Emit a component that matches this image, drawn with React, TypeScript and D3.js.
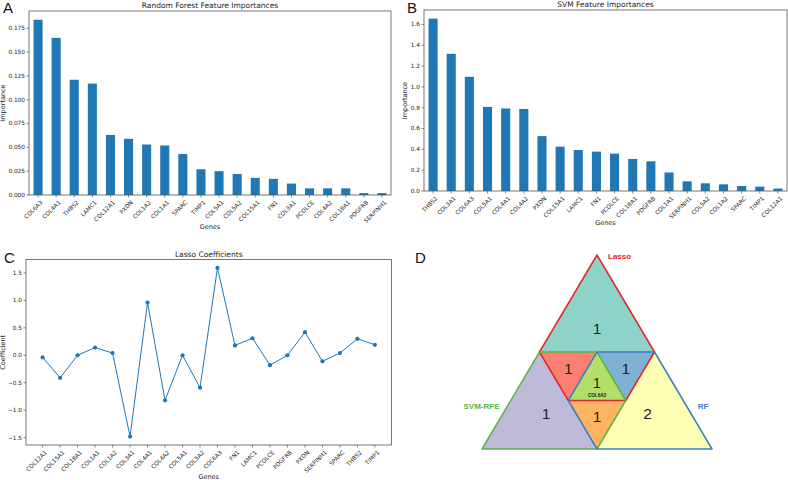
import * as d3 from 'd3'

// A - random forest importances (sorted)
const rfGenes = ['COL6A3','COL4A1','THBS2','LAMC1','COL12A1','PXDN','COL1A2','COL1A1','SPARC','TIMP1','COL5A1','COL5A2','COL15A1','FN1','COL3A1','PCOLCE','COL4A2','COL18A1','PDGFRB','SERPINH1']
const rfValues = [0.184,0.165,0.121,0.117,0.063,0.059,0.053,0.052,0.043,0.027,0.025,0.022,0.018,0.017,0.012,0.007,0.007,0.007,0.002,0.002]
const rfTicks = [0,0.025,0.05,0.075,0.1,0.125,0.15,0.175]

// B - SVM importances
const svmGenes = ['THBS2','COL3A1','COL6A3','COL5A1','COL4A1','COL4A2','PXDN','COL15A1','LAMC1','FN1','PCOLCE','COL18A1','PDGFRB','COL1A1','SERPINH1','COL5A2','COL1A2','SPARC','TIMP1','COL12A1']
const svmValues = [1.656,1.318,1.097,0.808,0.793,0.788,0.527,0.426,0.394,0.378,0.359,0.308,0.285,0.178,0.093,0.074,0.064,0.048,0.042,0.024]
const svmTicks = [0,0.2,0.4,0.6,0.8,1.0,1.2,1.4,1.6]

// C - lasso coefficients
const lassoGenes = ['COL12A1','COL15A1','COL18A1','COL1A1','COL1A2','COL3A1','COL4A1','COL4A2','COL5A1','COL5A2','COL6A3','FN1','LAMC1','PCOLCE','PDGFRB','PXDN','SERPINH1','SPARC','THBS2','TIMP1']
const lassoValues = [-0.04,-0.41,0.0,0.14,0.04,-1.48,0.96,-0.82,0.0,-0.59,1.59,0.18,0.31,-0.18,0.0,0.42,-0.11,0.04,0.30,0.19]
const lassoTicks = [-1.5,-1.0,-0.5,0,0.5,1.0,1.5]

// D - overlap counts
const vennRegions = ['Lasso','SVM-RFE','RF','Lasso+SVM-RFE','Lasso+RF','SVM-RFE+RF','All']
const vennCounts = [1,1,2,1,1,1,1]
const sharedGene = 'COL6A3'

const FONT = '"DejaVu Sans", sans-serif'
const SANS = 'Arial, "Liberation Sans", sans-serif'
const BLUE = '#1f77b4'
const SPINE = '#555'

type Box = {left:number, top:number, right:number, bottom:number}

function Axes({box, yScale, ticks, fmt, labels, xPos, title, ylabel, letter, letterX, letterY, ylabelX, xlabelY}:any) {
  const {left, top, right, bottom} = box as Box
  return (
    <g fontFamily={FONT}>
      <rect x={left} y={top} width={right-left} height={bottom-top} fill="none" stroke={SPINE} strokeWidth={0.8}/>
      {ticks.map((t:number) => (
        <g key={t} transform={`translate(${left},${yScale(t)})`}>
          <line x1={-2.5} x2={0} stroke={SPINE} strokeWidth={0.7}/>
          <text x={-4} dy="0.32em" fontSize={5.8} textAnchor="end" fill="#222">{fmt(t)}</text>
        </g>
      ))}
      {labels.map((g:string) => (
        <g key={g} transform={`translate(${xPos(g)},${bottom})`}>
          <line y1={0} y2={2.5} stroke={SPINE} strokeWidth={0.7}/>
          <text transform="translate(2,5) rotate(-45)" fontSize={5.8} textAnchor="end" dy="0.7em" fill="#222">{g}</text>
        </g>
      ))}
      <text x={(left+right)/2} y={top-3} fontSize={7.5} textAnchor="middle" fill="#222">{title}</text>
      <text x={(left+right)/2} y={xlabelY} fontSize={6.5} textAnchor="middle" fill="#222">Genes</text>
      <text transform={`translate(${ylabelX},${(top+bottom)/2}) rotate(-90)`} fontSize={6.5} textAnchor="middle" fill="#222">{ylabel}</text>
      <text x={letterX} y={letterY} fontSize={15} fill="#111" fontFamily={SANS}>{letter}</text>
    </g>
  )
}

function BarPanel({genes, values, ticks, fmt, box, title, letter, letterX, ylabelX, xlabelY}:any) {
  const x = d3.scaleBand<string>().domain(genes).range([box.left, box.right]).paddingInner(0.5).paddingOuter(0.25)
  const y = d3.scaleLinear().domain([0, (d3.max(values as number[]) as number)*1.05]).range([box.bottom, box.top])
  return (
    <g>
      {genes.map((g:string, i:number) => (
        <rect key={g} x={x(g)} y={y(values[i])} width={x.bandwidth()} height={y(0)-y(values[i])} fill={BLUE}/>
      ))}
      <Axes box={box} yScale={y} ticks={ticks} fmt={fmt} labels={genes} xPos={(g:string)=>(x(g) as number)+x.bandwidth()/2}
        title={title} ylabel="Importance" letter={letter} letterX={letterX} letterY={13} ylabelX={ylabelX} xlabelY={xlabelY}/>
    </g>
  )
}

function LassoPanel() {
  const box = {left:26, top:259.5, right:391.5, bottom:445}
  const x = d3.scalePoint<string>().domain(lassoGenes).range([box.left, box.right]).padding(0.95)
  const ext = d3.extent(lassoValues) as [number, number]
  const pad = (ext[1]-ext[0])*0.05
  const y = d3.scaleLinear().domain([ext[0]-pad, ext[1]+pad]).range([box.bottom, box.top])
  const line = d3.line<number>().x((_, i) => x(lassoGenes[i]) as number).y(d => y(d))
  return (
    <g>
      <path d={line(lassoValues) || ''} fill="none" stroke={BLUE} strokeWidth={1}/>
      {lassoValues.map((v, i) => <circle key={i} cx={x(lassoGenes[i])} cy={y(v)} r={2.1} fill={BLUE}/>)}
      <Axes box={box} yScale={y} ticks={lassoTicks} fmt={d3.format('.1f')} labels={lassoGenes} xPos={(g:string)=>x(g)}
        title="Lasso Coefficients" ylabel="Coefficient" letter="C" letterX={4} letterY={263} ylabelX={5} xlabelY={479}/>
    </g>
  )
}

function VennPanel() {
  // outer triangle
  const A: [number, number] = [597, 255]
  const L: [number, number] = [482, 449]
  const R: [number, number] = [712, 449]
  const mid = (p:[number,number], q:[number,number]):[number,number] => [(p[0]+q[0])/2, (p[1]+q[1])/2]
  const mL = mid(A, L), mR = mid(A, R), mB = mid(L, R)
  const cT = mid(mL, mR), cL = mid(mL, mB), cR = mid(mR, mB)
  const poly = (pts:[number,number][]) => 'M' + pts.map(p => p.join(',')).join('L') + 'Z'
  const cen = (pts:[number,number][]):[number,number] => [d3.mean(pts, p=>p[0]) as number, d3.mean(pts, p=>p[1]) as number]
  // label nudges relative to each region's centroid
  const regions: {pts:[number,number][], fill:string, off:[number,number], fs:number}[] = [
    {pts:[A, mL, mR], fill:'#8dd3c7', off:[0, 8.5], fs:15.5},
    {pts:[mL, L, mB], fill:'#bebada', off:[6.5, -3.5], fs:15.5},
    {pts:[mR, mB, R], fill:'#ffffb3', off:[-7, -3.5], fs:15.5},
    {pts:[mL, cT, cL], fill:'#fb8072', off:[0, 0], fs:15.5},
    {pts:[cT, mR, cR], fill:'#80b1d3', off:[0, 0], fs:15.5},
    {pts:[cL, cR, mB], fill:'#fdb462', off:[0, 0], fs:15.5},
    {pts:[cT, cL, cR], fill:'#b3de69', off:[0, -1.5], fs:14},
  ]
  const RED = '#e3262a', GREEN = '#5cb346', BLU = '#3a80c2'
  return (
    <g fontFamily={SANS}>
      {regions.map((r, i) => {
        const c = cen(r.pts)
        return (
          <g key={vennRegions[i]}>
            <path d={poly(r.pts)} fill={r.fill}/>
            <text x={c[0]+r.off[0]} y={c[1]+r.off[1]} dy="0.36em" fontSize={r.fs} textAnchor="middle" fill="#222">{vennCounts[i]}</text>
          </g>
        )
      })}
      <text x={597} y={396.5} fontSize={4.6} fontWeight="bold" textAnchor="middle" fill="#222">{sharedGene}</text>
      <path d={poly([A, mL, cL, cR, mR])} fill="none" stroke={RED} strokeWidth={1.5} strokeLinejoin="round"/>
      <path d={poly([mL, cT, cR, mB, L])} fill="none" stroke={GREEN} strokeWidth={1.5} strokeLinejoin="round"/>
      <path d={poly([cT, mR, R, mB, cL])} fill="none" stroke={BLU} strokeWidth={1.5} strokeLinejoin="round"/>
      <text x={608} y={258.5} fontSize={8} fontWeight="bold" fill={RED}>{vennRegions[0]}</text>
      <text x={481.5} y={408.5} fontSize={8} fontWeight="bold" textAnchor="middle" fill={GREEN}>{vennRegions[1]}</text>
      <text x={703} y={408.5} fontSize={8} fontWeight="bold" textAnchor="middle" fill={BLU}>{vennRegions[2]}</text>
      <text x={415} y={263} fontSize={15} fill="#111">D</text>
    </g>
  )
}

export default function App() {
  return (
    <svg width={788} height={480} style={{position:'absolute', left:0, top:0, background:'#fff'}}>
      <rect width={788} height={480} fill="#fff"/>
      <BarPanel genes={rfGenes} values={rfValues} ticks={rfTicks} fmt={d3.format('.3f')}
        box={{left:29, top:11, right:391, bottom:195}} title="Random Forest Feature Importances"
        letter="A" letterX={3} ylabelX={5} xlabelY={229}/>
      <BarPanel genes={svmGenes} values={svmValues} ticks={svmTicks} fmt={d3.format('.1f')}
        box={{left:424, top:10, right:787, bottom:191}} title="SVM Feature Importances"
        letter="B" letterX={407} ylabelX={407} xlabelY={225}/>
      <LassoPanel/>
      <VennPanel/>
    </svg>
  )
}
